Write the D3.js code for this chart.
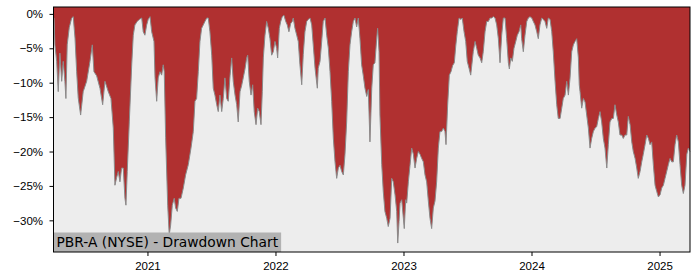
<!DOCTYPE html>
<html lang="en">
<head>
  <meta charset="UTF-8">
  <title>PBR-A (NYSE) - Drawdown Chart</title>
  <style>
    body {
      margin: 0;
      padding: 0;
      background-color: #ffffff;
      font-family: 'DejaVu Sans', sans-serif;
    }

    .axis text {
      font-size: 11.5px;
      fill: #000;
    }

    .axis path,
    .axis line {
      stroke: #000;
    }

    .title-box {
      fill: #b2b2b2;
    }

    .title-text {
      font-size: 13.8px;
      fill: #000;
    }
  </style>
</head>
<body>
  <svg width="700" height="280"></svg>

  <script src="https://d3js.org/d3.v7.min.js"></script>
  <script>
    const title = "PBR-A (NYSE) - Drawdown Chart";

    // time as decimal years, drawdown in percent
    const dates = [
      2020.266, 2020.270, 2020.277, 2020.291, 2020.303, 2020.316, 2020.330, 2020.342, 2020.355, 2020.363,
      2020.373, 2020.389, 2020.408, 2020.420, 2020.434, 2020.447, 2020.459, 2020.478, 2020.498, 2020.525,
      2020.551, 2020.569, 2020.582, 2020.603, 2020.629, 2020.650, 2020.668, 2020.694, 2020.715, 2020.733,
      2020.746, 2020.759, 2020.772, 2020.785, 2020.798, 2020.811, 2020.824, 2020.832, 2020.842, 2020.858,
      2020.877, 2020.889, 2020.902, 2020.920, 2020.936, 2020.955, 2020.967, 2020.980, 2020.994, 2021.006,
      2021.020, 2021.033, 2021.051, 2021.059, 2021.072, 2021.084, 2021.098, 2021.111, 2021.123, 2021.131,
      2021.142, 2021.158, 2021.170, 2021.181, 2021.194, 2021.209, 2021.220, 2021.233, 2021.246, 2021.262,
      2021.280, 2021.298, 2021.319, 2021.340, 2021.358, 2021.371, 2021.384, 2021.397, 2021.410, 2021.423,
      2021.436, 2021.449, 2021.463, 2021.475, 2021.488, 2021.502, 2021.514, 2021.527, 2021.541, 2021.553,
      2021.566, 2021.580, 2021.592, 2021.605, 2021.619, 2021.631, 2021.645, 2021.658, 2021.670, 2021.684,
      2021.697, 2021.709, 2021.723, 2021.736, 2021.748, 2021.762, 2021.775, 2021.783, 2021.795, 2021.809,
      2021.822, 2021.834, 2021.848, 2021.861, 2021.873, 2021.887, 2021.897, 2021.905, 2021.918, 2021.931,
      2021.944, 2021.957, 2021.970, 2021.983, 2021.996, 2022.009, 2022.017, 2022.030, 2022.041, 2022.053,
      2022.066, 2022.080, 2022.092, 2022.105, 2022.119, 2022.131, 2022.139, 2022.152, 2022.166, 2022.178,
      2022.191, 2022.205, 2022.217, 2022.230, 2022.244, 2022.256, 2022.270, 2022.283, 2022.295, 2022.309,
      2022.327, 2022.334, 2022.348, 2022.361, 2022.373, 2022.387, 2022.400, 2022.413, 2022.426, 2022.439,
      2022.452, 2022.465, 2022.478, 2022.491, 2022.504, 2022.517, 2022.530, 2022.543, 2022.556, 2022.569,
      2022.582, 2022.595, 2022.608, 2022.621, 2022.634, 2022.647, 2022.660, 2022.673, 2022.686, 2022.699,
      2022.713, 2022.725, 2022.738, 2022.752, 2022.764, 2022.777, 2022.791, 2022.798, 2022.809, 2022.816,
      2022.830, 2022.842, 2022.855, 2022.869, 2022.881, 2022.895, 2022.908, 2022.920, 2022.934, 2022.947,
      2022.955, 2022.965, 2022.973, 2022.986, 2022.998, 2023.006, 2023.017, 2023.025, 2023.038, 2023.051,
      2023.064, 2023.077, 2023.090, 2023.103, 2023.116, 2023.129, 2023.142, 2023.155, 2023.168, 2023.181,
      2023.194, 2023.207, 2023.220, 2023.233, 2023.246, 2023.259, 2023.272, 2023.285, 2023.298, 2023.311,
      2023.324, 2023.332, 2023.345, 2023.358, 2023.371, 2023.384, 2023.397, 2023.408, 2023.420, 2023.434,
      2023.449, 2023.459, 2023.473, 2023.486, 2023.498, 2023.512, 2023.525, 2023.545, 2023.559, 2023.572,
      2023.584, 2023.598, 2023.611, 2023.623, 2023.637, 2023.650, 2023.663, 2023.676, 2023.689, 2023.702,
      2023.715, 2023.728, 2023.741, 2023.754, 2023.767, 2023.780, 2023.793, 2023.806, 2023.819, 2023.827,
      2023.838, 2023.850, 2023.863, 2023.877, 2023.889, 2023.902, 2023.916, 2023.923, 2023.936, 2023.949,
      2023.963, 2023.975, 2023.988, 2024.002, 2024.014, 2024.027, 2024.041, 2024.053, 2024.066, 2024.080,
      2024.092, 2024.105, 2024.119, 2024.131, 2024.145, 2024.158, 2024.170, 2024.184, 2024.197, 2024.209,
      2024.223, 2024.236, 2024.248, 2024.262, 2024.275, 2024.288, 2024.301, 2024.314, 2024.327, 2024.340,
      2024.353, 2024.366, 2024.373, 2024.379, 2024.392, 2024.405, 2024.418, 2024.431, 2024.444, 2024.457,
      2024.470, 2024.483, 2024.496, 2024.509, 2024.522, 2024.535, 2024.548, 2024.561, 2024.574, 2024.588,
      2024.600, 2024.613, 2024.627, 2024.639, 2024.652, 2024.666, 2024.678, 2024.691, 2024.705, 2024.717,
      2024.730, 2024.744, 2024.756, 2024.770, 2024.783, 2024.795, 2024.809, 2024.822, 2024.834, 2024.848,
      2024.861, 2024.873, 2024.887, 2024.900, 2024.913, 2024.926, 2024.939, 2024.952, 2024.965, 2024.978,
      2024.991, 2025.004, 2025.017, 2025.030, 2025.043, 2025.056, 2025.069, 2025.082, 2025.095, 2025.108,
      2025.121, 2025.134, 2025.147, 2025.160, 2025.173, 2025.186, 2025.199, 2025.213, 2025.225, 2025.238
    ];

    const drawdown = [
      -0.5, -0.6, -4.5, -6.9, -11.3, -5.7, -9.8, -6.9, -9.8, -12.3,
      -4.5, -2.0, -0.6, -0.4, -3.5, -8.4, -12.2, -14.7, -11.3, -9.8,
      -6.9, -4.5, -8.4, -9.0, -10.8, -13.2, -9.8, -11.3, -12.3, -16.6,
      -24.9, -23.8, -22.9, -24.4, -22.4, -22.4, -26.8, -27.8, -22.9, -15.7,
      -7.4, -3.1, -1.6, -1.1, -0.8, -0.6, -2.6, -3.1, -1.6, -0.8,
      -0.4, -2.6, -4.0, -9.3, -12.7, -9.3, -8.4, -8.9, -7.4, -8.4,
      -18.0, -27.8, -32.1, -30.7, -27.8, -26.8, -28.2, -28.7, -26.8, -26.8,
      -25.3, -23.4, -21.9, -19.5, -17.1, -12.7, -12.3, -8.4, -4.0, -2.1,
      -1.6, -1.1, -0.6, -0.6, -2.6, -6.0, -10.8, -11.8, -13.2, -14.2,
      -11.8, -14.2, -12.3, -9.3, -12.3, -12.7, -9.0, -6.4, -9.8, -11.8,
      -13.2, -15.7, -11.3, -10.4, -9.3, -8.0, -6.4, -6.0, -9.8, -11.8,
      -10.3, -14.2, -16.1, -13.7, -14.2, -16.1, -11.3, -6.4, -3.1, -1.1,
      -2.1, -3.6, -6.0, -5.5, -4.0, -5.0, -6.4, -2.1, -1.1, -0.4,
      -0.2, -1.1, -1.6, -2.6, -1.4, -1.1, -0.6, -2.1, -3.1, -4.0,
      -7.4, -10.3, -5.9, -2.6, -1.1, -0.8, -0.6, -1.6, -4.5, -7.9,
      -10.8, -7.9, -6.9, -4.0, -1.1, -0.6, -3.1, -5.0, -8.4, -12.7,
      -18.1, -21.5, -23.9, -22.4, -22.0, -22.9, -23.4, -20.4, -15.7, -8.4,
      -4.5, -2.6, -1.1, -0.6, -1.9, -0.6, -3.6, -7.4, -9.0, -10.8,
      -12.0, -11.0, -18.6, -10.8, -7.4, -7.1, -3.5, -2.1, -5.5, -14.7,
      -21.9, -25.8, -28.7, -29.7, -30.9, -29.7, -23.9, -24.4, -26.3, -28.7,
      -33.3, -30.2, -27.5, -27.0, -29.5, -31.2, -27.0, -27.5, -24.4, -22.0,
      -19.5, -20.4, -22.4, -21.0, -20.0, -20.4, -21.0, -21.5, -23.4, -24.4,
      -27.2, -29.7, -31.2, -28.2, -27.2, -24.4, -19.5, -17.1, -17.1, -16.6,
      -17.1, -19.0, -13.2, -8.9, -8.4, -7.5, -7.1, -4.7, -2.6, -0.6,
      -0.8, -0.6, -2.6, -4.0, -6.9, -7.9, -8.9, -5.5, -4.0, -5.0,
      -6.0, -6.4, -7.1, -5.5, -2.6, -1.1, -1.1, -0.6, -0.6, -0.4,
      -0.6, -1.6, -3.6, -7.1, -3.1, -0.6, -0.6, -3.6, -7.1, -8.0,
      -6.4, -6.9, -5.0, -4.0, -3.1, -2.6, -1.6, -3.6, -5.5, -3.1,
      -1.1, -0.6, -0.4, -0.6, -1.1, -1.6, -2.6, -3.6, -1.6, -0.6,
      -0.8, -1.1, -2.1, -0.6, -0.8, -2.6, -5.5, -9.8, -13.2, -15.2,
      -15.2, -13.7, -12.3, -11.8, -9.8, -11.8, -9.3, -5.5, -4.5, -4.0,
      -3.6, -6.4, -10.3, -11.3, -13.7, -12.3, -12.8, -14.7, -16.6, -19.5,
      -18.1, -17.1, -16.6, -16.4, -15.2, -14.2, -15.7, -18.1, -19.5, -22.4,
      -19.0, -15.7, -15.2, -15.2, -13.2, -14.7, -15.7, -17.6, -17.6, -18.1,
      -17.6, -17.6, -14.9, -16.1, -18.6, -20.0, -21.0, -22.4, -23.9, -22.9,
      -21.5, -20.4, -19.0, -17.6, -18.1, -19.0, -18.6, -22.0, -24.9, -25.8,
      -26.6, -26.3, -25.3, -24.9, -23.9, -22.9, -21.9, -21.0, -21.5, -21.5,
      -19.0, -17.6, -18.6, -21.9, -24.9, -26.1, -24.9, -20.4, -19.5, -20.0
    ];

    const yTicks = [0, -5, -10, -15, -20, -25, -30];
    const xTicks = [2021, 2022, 2023, 2024, 2025];

    const svg = d3.select("svg");
    const margin = { top: 7, right: 10, bottom: 28, left: 53.5 };
    const plotW = 690 - margin.left;
    const plotH = 252 - margin.top;

    const x = d3.scaleLinear()
      .domain([2020.266, 2025.238])
      .range([margin.left, margin.left + plotW]);

    const y = d3.scaleLinear()
      .domain([-34.6, 1.0])
      .range([margin.top + plotH, margin.top]);

    const points = dates.map((d, i) => ({ t: d, v: drawdown[i] }));

    // plot background
    svg.append("rect")
      .attr("x", margin.left)
      .attr("y", margin.top)
      .attr("width", plotW)
      .attr("height", plotH)
      .attr("fill", "#ededed");

    // red area from the curve up to the top of the axes
    const area = d3.area()
      .x((d) => x(d.t))
      .y0(y(1.0))
      .y1((d) => y(d.v));

    svg.append("path")
      .datum(points)
      .attr("d", area)
      .attr("fill", "#b03030");

    const line = d3.line()
      .x((d) => x(d.t))
      .y((d) => y(d.v));

    svg.append("path")
      .datum(points)
      .attr("d", line)
      .attr("fill", "none")
      .attr("stroke", "#8a8a8a")
      .attr("stroke-width", 1);

    // title box in the lower left corner
    const titleG = svg.append("g");
    const titleText = titleG.append("text")
      .attr("class", "title-text")
      .attr("x", margin.left + 3)
      .attr("y", margin.top + plotH - 5.5)
      .text(title);
    const tw = titleText.node().getComputedTextLength();
    titleG.insert("rect", "text")
      .attr("class", "title-box")
      .attr("x", margin.left)
      .attr("y", margin.top + plotH - 19.5)
      .attr("width", tw + 6)
      .attr("height", 19.5);

    // axes
    const fmtPct = (d) => (d < 0 ? "\u2212" + Math.abs(d) : d) + "%";

    svg.append("g")
      .attr("class", "axis")
      .attr("transform", `translate(${margin.left},0)`)
      .call(d3.axisLeft(y).tickValues(yTicks).tickFormat(fmtPct).tickSize(4).tickPadding(6.5))
      .call((g) => g.select(".domain").remove());

    svg.append("g")
      .attr("class", "axis")
      .attr("transform", `translate(0,${margin.top + plotH})`)
      .call(d3.axisBottom(x).tickValues(xTicks).tickFormat(d3.format("d")).tickSize(4).tickPadding(6))
      .call((g) => g.select(".domain").remove());

    // frame
    svg.append("rect")
      .attr("x", margin.left)
      .attr("y", margin.top)
      .attr("width", plotW)
      .attr("height", plotH)
      .attr("fill", "none")
      .attr("stroke", "#000")
      .attr("stroke-width", 1);
  </script>
</body>
</html>
